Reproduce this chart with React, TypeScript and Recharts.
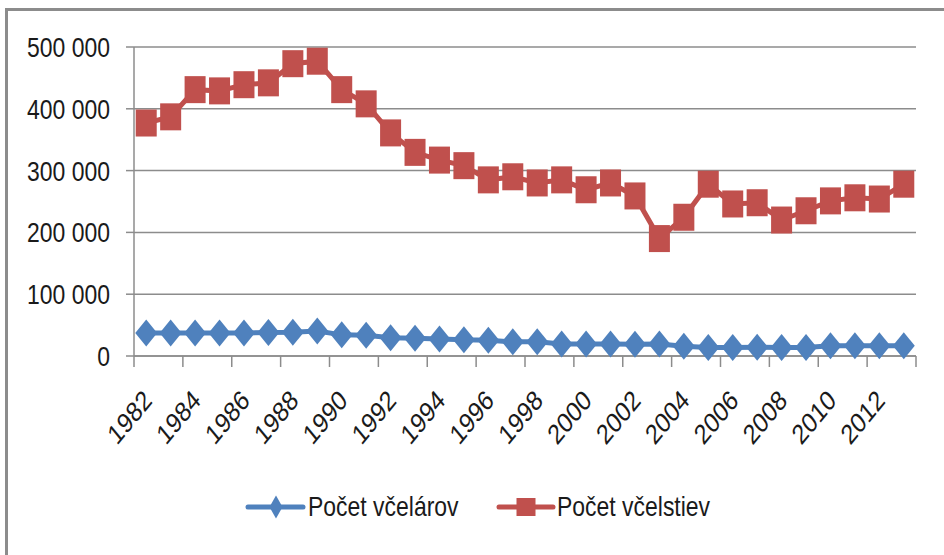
import React from "react"
import { LineChart, Line, XAxis, YAxis, CartesianGrid, Legend } from "recharts"

const years = [
  1982, 1983, 1984, 1985, 1986, 1987, 1988, 1989, 1990, 1991, 1992,
  1993, 1994, 1995, 1996, 1997, 1998, 1999, 2000, 2001, 2002, 2003,
  2004, 2005, 2006, 2007, 2008, 2009, 2010, 2011, 2012, 2013,
]

const vcelarov = [
  37400, 37400, 37400, 37400, 37400, 38000, 38500, 40500, 34200, 33400, 29700,
  28800, 27700, 26100, 25600, 22900, 22900, 19600, 19600, 19400, 19000, 19600,
  15900, 13800, 13800, 14000, 13800, 13800, 16700, 16500, 16500, 16700,
]

const vcelstiev = [
  377000, 387000, 431000, 429000, 439000, 442000, 473000, 477000, 431000, 408000, 361000,
  329500, 317000, 308000, 285000, 290000, 280000, 285000, 269000, 280000, 259000, 190000,
  224500, 278000, 246000, 248000, 220000, 235000, 251000, 256000, 254000, 278000,
]

const yTicks = [0, 100000, 200000, 300000, 400000, 500000]
const xLabelYears = [1982, 1984, 1986, 1988, 1990, 1992, 1994, 1996, 1998, 2000, 2002, 2004, 2006, 2008, 2010, 2012]

const BLUE = "#4F81BD"
const RED = "#C0504D"
const GRID = "#8c8c8c"
const TEXT = "#1a1a1a"
const FONT = "'Liberation Sans', Arial, sans-serif"
// the original picture is squeezed sideways, so text is narrowed the same way
const SQUISH = 0.82

const data = years.map((year, i) => ({
  year,
  vcelarov: vcelarov[i],
  vcelstiev: vcelstiev[i],
}))

// tick marks sit on the boundaries between years, two years apart
const boundaryTicks = [...xLabelYears.map((y) => y - 0.5), 2013.5]

const fmt = (v: number) => String(v).replace(/\B(?=(\d{3})+(?!\d))/g, " ")

const CHART_W = 944
const CHART_H = 555
const PLOT_LEFT = 134
const PLOT_RIGHT = 28
const BAND = (CHART_W - PLOT_LEFT - PLOT_RIGHT) / years.length

const Diamond = ({ cx, cy, w = 22, h = 27, fill }: any) => {
  if (cx == null || cy == null) return null
  return (
    <polygon
      points={`${cx},${cy - h / 2} ${cx + w / 2},${cy} ${cx},${cy + h / 2} ${cx - w / 2},${cy}`}
      fill={fill}
    />
  )
}

const Square = ({ cx, cy, w = 21, h = 27, fill }: any) => {
  if (cx == null || cy == null) return null
  return <rect x={cx - w / 2} y={cy - h / 2} width={w} height={h} fill={fill} />
}

const NarrowText = ({ x, y, anchor = "start", rotate = 0, dy, children }: any) => (
  <g transform={`translate(${x}, ${y}) scale(${SQUISH}, 1) rotate(${rotate})`}>
    <text x={0} y={0} dy={dy} textAnchor={anchor} fontSize={28} fontFamily={FONT} fill={TEXT}>
      {children}
    </text>
  </g>
)

const YearTick = ({ x, y, payload }: any) => {
  const year = payload.value + 0.5
  if (!xLabelYears.includes(year)) return null
  return (
    <NarrowText x={x + BAND / 2 + 7} y={y + 35} anchor="end" rotate={-45}>
      {year}
    </NarrowText>
  )
}

const ValueTick = ({ x, y, payload }: any) => (
  <NarrowText x={x} y={y} anchor="end" dy="0.355em">
    {fmt(payload.value)}
  </NarrowText>
)

const LegendContent = () => (
  <svg width={CHART_W} height={40}>
    <line x1={248} y1={20} x2={303} y2={20} stroke={BLUE} strokeWidth={5} strokeLinecap="round" />
    <Diamond cx={276} cy={20} w={13} h={23} fill={BLUE} />
    <NarrowText x={308} y={29}>Počet včelárov</NarrowText>
    <line x1={499} y1={20} x2={553} y2={20} stroke={RED} strokeWidth={5} strokeLinecap="round" />
    <Square cx={526} cy={20} w={19} h={18} fill={RED} />
    <NarrowText x={557} y={29}>Počet včelstiev</NarrowText>
  </svg>
)

export default function App() {
  return (
    <div
      style={{
        position: "absolute",
        left: 0,
        top: 0,
        width: CHART_W,
        height: CHART_H,
        overflow: "hidden",
        background: "#fff",
      }}
    >
      <div
        style={{
          position: "absolute",
          left: 5,
          top: 8,
          width: CHART_W + 20,
          height: CHART_H + 20,
          borderLeft: `3px solid ${GRID}`,
          borderTop: `3px solid ${GRID}`,
        }}
      />
      <div style={{ position: "absolute", left: 0, top: 0 }}>
        <LineChart
          width={CHART_W}
          height={CHART_H}
          data={data}
          margin={{ top: 47, right: PLOT_RIGHT, bottom: 0, left: 0 }}
        >
          <CartesianGrid vertical={false} stroke={GRID} strokeWidth={1.5} />
          <XAxis
            dataKey="year"
            type="number"
            domain={[1981.5, 2013.5]}
            ticks={boundaryTicks}
            interval={0}
            height={199}
            stroke={GRID}
            strokeWidth={1.5}
            tickSize={11}
            tickMargin={0}
            tick={<YearTick />}
          />
          <YAxis
            domain={[0, 500000]}
            ticks={yTicks}
            interval={0}
            width={PLOT_LEFT}
            stroke={GRID}
            strokeWidth={1.5}
            tickSize={8}
            tickMargin={16}
            tick={<ValueTick />}
          />
          <Legend
            layout="horizontal"
            verticalAlign="middle"
            align="center"
            wrapperStyle={{ top: 487, left: 0, width: CHART_W, height: 40 }}
            content={<LegendContent />}
          />
          <Line
            dataKey="vcelarov"
            name="Počet včelárov"
            stroke={BLUE}
            strokeWidth={5}
            dot={(p: any) => <Diamond key={`d${p.index}`} cx={p.cx} cy={p.cy} fill={BLUE} />}
            activeDot={false}
            isAnimationActive={false}
          />
          <Line
            dataKey="vcelstiev"
            name="Počet včelstiev"
            stroke={RED}
            strokeWidth={5}
            dot={(p: any) => <Square key={`s${p.index}`} cx={p.cx} cy={p.cy} fill={RED} />}
            activeDot={false}
            isAnimationActive={false}
          />
        </LineChart>
      </div>
    </div>
  )
}
